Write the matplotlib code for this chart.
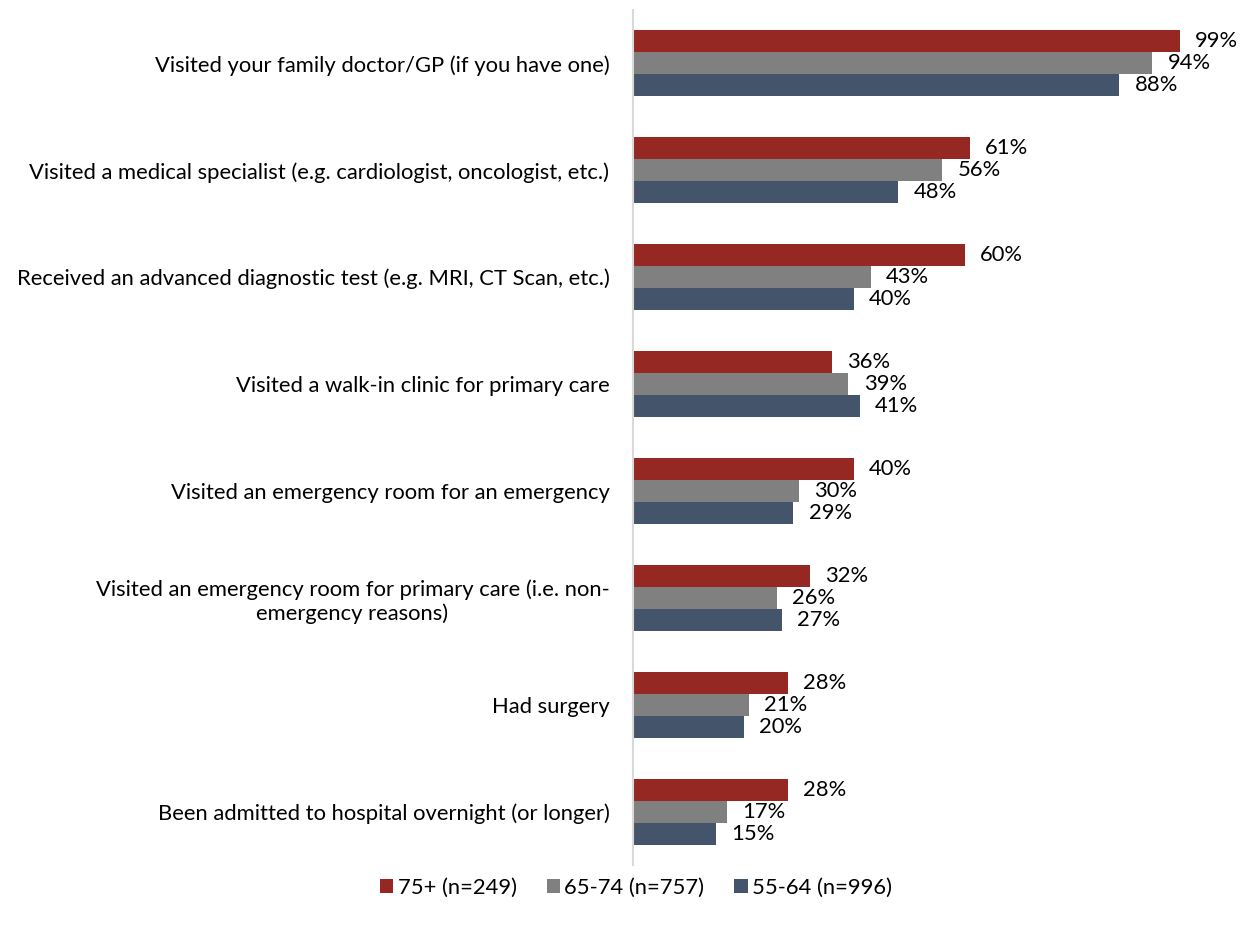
import matplotlib
matplotlib.use("Agg")
import matplotlib.pyplot as plt
import numpy as np

plt.rcParams['font.family'] = ['Lato', 'DejaVu Sans']

categories = [
    "Visited your family doctor/GP (if you have one)",
    "Visited a medical specialist (e.g. cardiologist, oncologist, etc.)",
    "Received an advanced diagnostic test (e.g. MRI, CT Scan, etc.)",
    "Visited a walk-in clinic for primary care",
    "Visited an emergency room for an emergency",
    "Visited an emergency room for primary care (i.e. non-\nemergency reasons)",
    "Had surgery",
    "Been admitted to hospital overnight (or longer)",
]
series_names = ["75+ (n=249)", "65-74 (n=757)", "55-64 (n=996)"]
vals_75 = [99, 61, 60, 36, 40, 32, 28, 28]
vals_65 = [94, 56, 43, 39, 30, 26, 21, 17]
vals_55 = [88, 48, 40, 41, 29, 27, 20, 15]
colors = ["#952822", "#808080", "#44546A"]

W, H = 1245, 925
fig = plt.figure(figsize=(W / 100, H / 100), dpi=100)
x0, x1 = 633, 633 + 110 * 5.525
ax = fig.add_axes([x0 / W, 1 - 865 / H, (x1 - x0) / W, (865 - 10) / H])

n = len(categories)
y = np.arange(n)
bh = 22 / 107
FS = 15.8
for i, (vals, c, name) in enumerate(zip([vals_75, vals_65, vals_55], colors, series_names)):
    pos = y + (i - 1) * bh
    ax.barh(pos, vals, height=bh, color=c, label=name)
    for p, v in zip(pos, vals):
        ax.annotate(f"{v}%", (v, p), xytext=(11, 0), textcoords="offset points",
                    ha="left", va="center", fontsize=FS, color="#000000")

ax.set_ylim(n - 0.5, -0.5)
ax.set_xlim(0, 110)
ax.set_yticks(y)
ax.set_yticklabels(categories, fontsize=FS, multialignment="center")
ax.tick_params(axis="y", length=0, pad=17)
ax.set_xticks([])
for s in ["top", "right", "bottom"]:
    ax.spines[s].set_visible(False)
ax.spines["left"].set_color("#D9D9D9")
ax.spines["left"].set_linewidth(1.5)

handles, labels = ax.get_legend_handles_labels()
fig.legend(handles, labels, loc="center", bbox_to_anchor=(636 / W, 1 - 888 / H), ncol=3,
           frameon=False, fontsize=FS, handlelength=0.62, handleheight=0.62,
           handletextpad=0.2, columnspacing=1.35)

fig.savefig("out.png", dpi=100)
